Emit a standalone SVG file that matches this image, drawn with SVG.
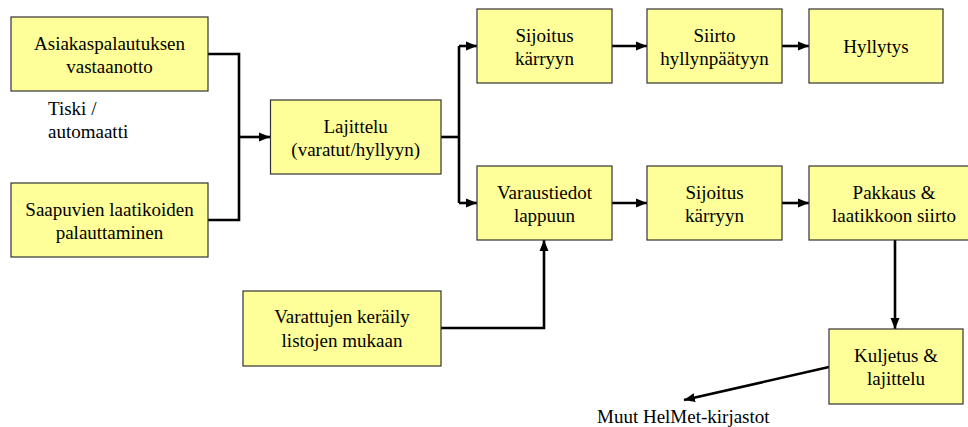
<svg xmlns="http://www.w3.org/2000/svg" width="968" height="427" viewBox="0 0 968 427" font-family="'Liberation Serif', 'Times New Roman', serif">
  <style>
    .box { fill: #FFFF99; stroke: #333333; stroke-width: 1.2; }
    text { font-family: 'Liberation Serif', 'Times New Roman', serif; font-size: 19px; fill: #000; }
    .lbl { text-anchor: middle; }
    .wire { fill: none; stroke: #000; stroke-width: 2.6; stroke-linejoin: miter; }
  </style>
  <defs>
    <marker id="arrow" markerUnits="userSpaceOnUse" markerWidth="12" markerHeight="12" viewBox="0 0 12 12" refX="11" refY="6" orient="auto">
      <path d="M0,1.5 L11,6 L0,10.5 Z" fill="#000"/>
    </marker>
  </defs>

  <rect width="968" height="427" fill="#fff"/>

  <!-- connectors -->
  <g id="connectors">
    <polyline class="wire" points="208,54 239,54 239,220 208,220"/>
    <line class="wire" x1="239" y1="137" x2="270" y2="137" marker-end="url(#arrow)"/>
    <line class="wire" x1="441" y1="137" x2="459" y2="137"/>
    <line class="wire" x1="459" y1="46" x2="459" y2="203"/>
    <line class="wire" x1="459" y1="46" x2="477" y2="46" marker-end="url(#arrow)"/>
    <line class="wire" x1="459" y1="203" x2="477" y2="203" marker-end="url(#arrow)"/>
    <line class="wire" x1="612" y1="46" x2="647" y2="46" marker-end="url(#arrow)"/>
    <line class="wire" x1="782" y1="46" x2="809" y2="46" marker-end="url(#arrow)"/>
    <line class="wire" x1="612" y1="203" x2="647" y2="203" marker-end="url(#arrow)"/>
    <line class="wire" x1="782" y1="203" x2="809" y2="203" marker-end="url(#arrow)"/>
    <line class="wire" x1="895" y1="240" x2="895" y2="329" marker-end="url(#arrow)"/>
    <polyline class="wire" points="441,328 544,328 544,240" marker-end="url(#arrow)"/>
    <line class="wire" x1="829" y1="367" x2="684" y2="400" marker-end="url(#arrow)"/>
  </g>

  <!-- nodes -->
  <g id="asiakaspalautus">
    <rect class="box" x="11" y="17" width="197" height="74"/>
    <text class="lbl" x="109.5" y="50">Asiakaspalautuksen</text>
    <text class="lbl" x="109.5" y="73">vastaanotto</text>
  </g>
  <g id="saapuvat">
    <rect class="box" x="11" y="183" width="197" height="74"/>
    <text class="lbl" x="109.5" y="216">Saapuvien laatikoiden</text>
    <text class="lbl" x="109.5" y="239">palauttaminen</text>
  </g>
  <g id="lajittelu">
    <rect class="box" x="270.5" y="100" width="170.5" height="74"/>
    <text class="lbl" x="355.7" y="133">Lajittelu</text>
    <text class="lbl" x="355.7" y="156">(varatut/hyllyyn)</text>
  </g>
  <g id="sijoitus1">
    <rect class="box" x="477" y="9" width="135" height="74"/>
    <text class="lbl" x="544.5" y="42">Sijoitus</text>
    <text class="lbl" x="544.5" y="65">kärryyn</text>
  </g>
  <g id="siirto">
    <rect class="box" x="647" y="9" width="135" height="74"/>
    <text class="lbl" x="714.5" y="42">Siirto</text>
    <text class="lbl" x="714.5" y="65">hyllynpäätyyn</text>
  </g>
  <g id="hyllytys">
    <rect class="box" x="809" y="9" width="134" height="74"/>
    <text class="lbl" x="876" y="53">Hyllytys</text>
  </g>
  <g id="varaustiedot">
    <rect class="box" x="477" y="166" width="135" height="74"/>
    <text class="lbl" x="544.5" y="199">Varaustiedot</text>
    <text class="lbl" x="544.5" y="222">lappuun</text>
  </g>
  <g id="sijoitus2">
    <rect class="box" x="647" y="166" width="135" height="74"/>
    <text class="lbl" x="714.5" y="199">Sijoitus</text>
    <text class="lbl" x="714.5" y="222">kärryyn</text>
  </g>
  <g id="pakkaus">
    <rect class="box" x="809" y="166" width="171" height="74"/>
    <text class="lbl" x="894" y="199">Pakkaus &amp;</text>
    <text class="lbl" x="894" y="222">laatikkoon siirto</text>
  </g>
  <g id="varattujen">
    <rect class="box" x="243" y="291" width="198" height="75"/>
    <text class="lbl" x="342" y="323">Varattujen keräily</text>
    <text class="lbl" x="342" y="347">listojen mukaan</text>
  </g>
  <g id="kuljetus">
    <rect class="box" x="829" y="329" width="134" height="75"/>
    <text class="lbl" x="896" y="362">Kuljetus &amp;</text>
    <text class="lbl" x="896" y="385">lajittelu</text>
  </g>

  <!-- free labels -->
  <g id="tiski">
    <text x="48" y="115">Tiski /</text>
    <text x="48" y="138">automaatti</text>
  </g>
  <g id="muut">
    <text x="597" y="423">Muut HelMet-kirjastot</text>
  </g>
</svg>
